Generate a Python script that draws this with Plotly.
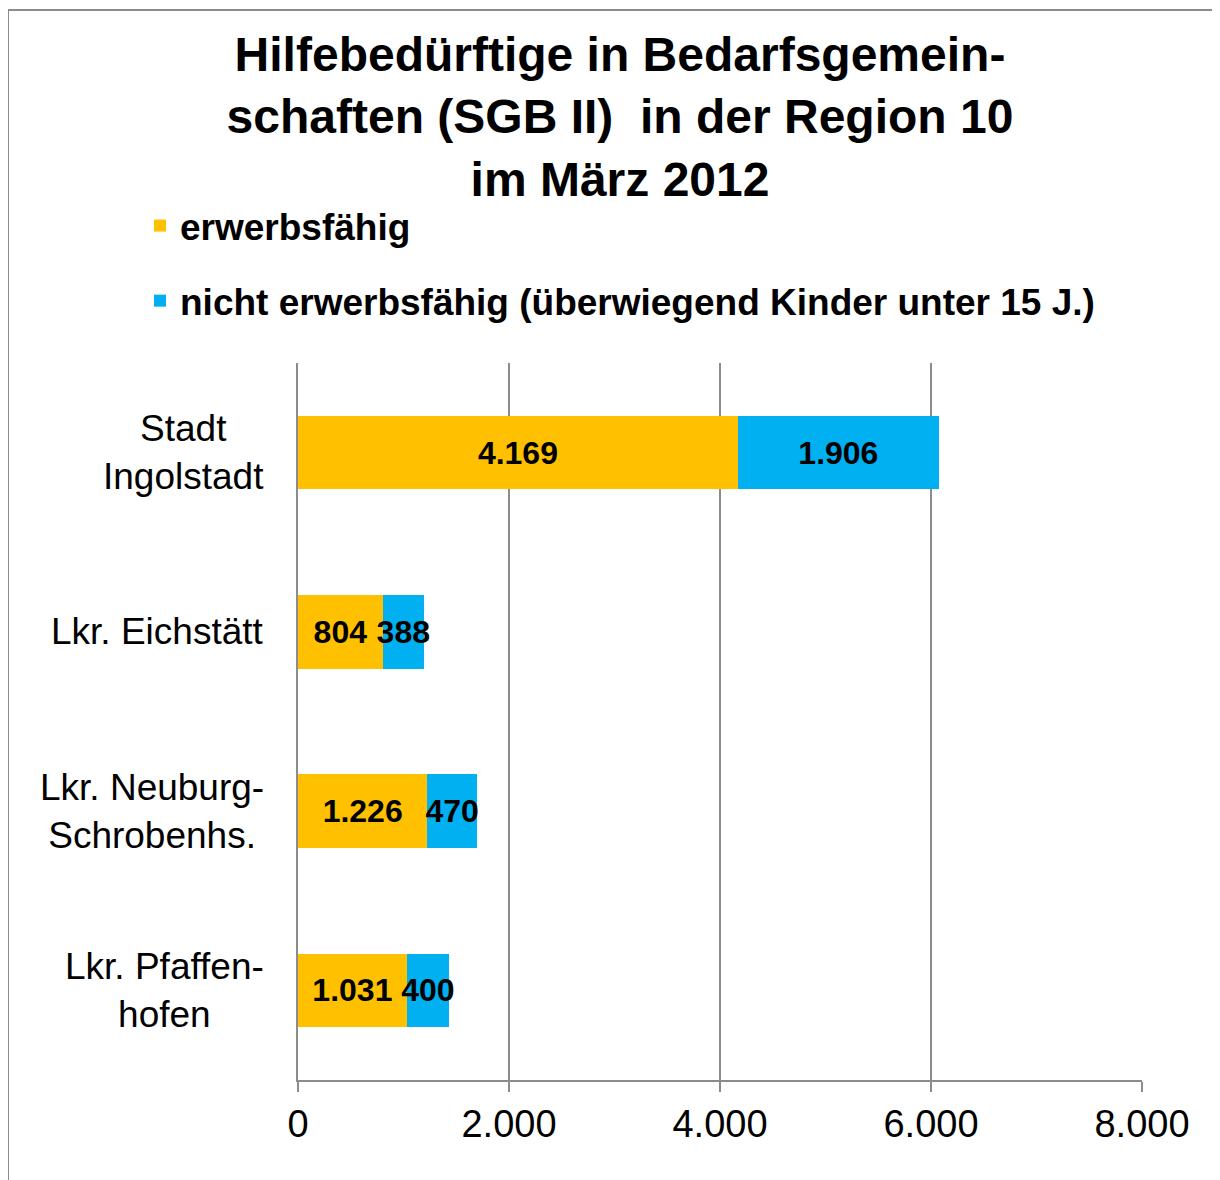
import plotly.graph_objects as go

categories = ["Stadt<br>Ingolstadt", "Lkr. Eichstätt", "Lkr. Neuburg-<br>Schrobenhs.", "Lkr. Pfaffen-<br>hofen"]
erwerbsfaehig = [4169, 804, 1226, 1031]
nicht_erwerbsfaehig = [1906, 388, 470, 400]
series_names = ["erwerbsfähig", "nicht erwerbsfähig (überwiegend Kinder unter 15 J.)"]
tick_values = [0, 2000, 4000, 6000, 8000]

FONT = "Liberation Sans, Arial, sans-serif"
ORANGE = "#FFC000"
BLUE = "#00B0F0"
GRID = "#8C8C8C"

W, H = 1220, 1180
OFF = 8  # page offset of the figure inside the browser window
ML, MR, MT, MB = 298 - OFF, W - (1142 - OFF), 363 - OFF, H - (1080 - OFF)
PW, PH = W - ML - MR, H - MT - MB


def px_x(px):
    return (px - OFF - ML) / PW


def px_y(py):
    return (H - MB - (py - OFF)) / PH


fig = go.Figure()
for name, vals, col, grp in [(series_names[0], erwerbsfaehig, ORANGE, "a"),
                             (series_names[1], nicht_erwerbsfaehig, BLUE, "b")]:
    fig.add_trace(go.Bar(
        y=categories, x=vals, name=name, orientation="h",
        marker=dict(color=col, line=dict(width=0)),
        legendgroup=grp,
        texttemplate="%{x:,}", textposition="inside", insidetextanchor="middle",
        textangle=0, constraintext="none",
        textfont=dict(family=FONT, size=32, color="black", weight="bold"),
    ))

annotations = []
for c in categories:
    annotations.append(dict(
        x=px_x(266), xref="paper", y=c, yref="y", xanchor="right", align="center",
        text=c, showarrow=False, font=dict(family=FONT, size=37, color="black"),
    ))

fig.update_layout(
    width=W, height=H,
    margin=dict(l=ML, r=MR, t=MT, b=MB),
    paper_bgcolor="white", plot_bgcolor="white",
    barmode="stack", bargap=0.59,
    separators=",.",
    title=dict(
        text="Hilfebedürftige in Bedarfsgemein-<br>schaften (SGB II)  in der Region 10<br>im März 2012",
        x=612 / W, xref="container", xanchor="center",
        y=1 - 63 / H, yref="container", yanchor="middle",
        font=dict(family=FONT, size=48, color="black", weight="bold"),
    ),
    legend=dict(
        x=px_x(140), xanchor="left", y=px_y(195), yanchor="top",
        traceorder="grouped", tracegroupgap=24,
        font=dict(family=FONT, size=37, color="black", weight="bold"),
        bgcolor="rgba(0,0,0,0)",
    ),
    xaxis=dict(
        range=[0, 8000], tickvals=tick_values, tickformat=",",
        showgrid=True, gridcolor=GRID, gridwidth=1.5,
        showline=True, linecolor=GRID, linewidth=1.5,
        ticks="outside", ticklen=10, tickcolor=GRID, tickwidth=1.5,
        tickfont=dict(family=FONT, size=38, color="black"),
        zeroline=False, fixedrange=True,
    ),
    yaxis=dict(
        autorange="reversed", showticklabels=False, showgrid=False,
        showline=True, linecolor=GRID, linewidth=1.5, ticks="", zeroline=False,
        fixedrange=True,
    ),
    annotations=annotations,
    shapes=[dict(
        type="rect", xref="paper", yref="paper",
        x0=px_x(8), x1=px_x(1240), y0=px_y(1200), y1=px_y(10),
        line=dict(color="#8C8C8C", width=2), fillcolor="rgba(0,0,0,0)", layer="below",
    )],
)

fig.write_html("out.html")
